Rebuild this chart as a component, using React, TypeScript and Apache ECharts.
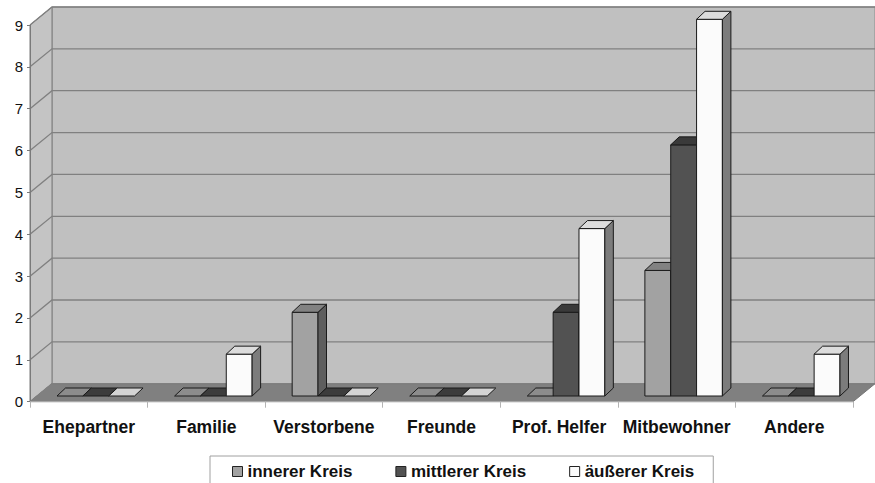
import React, { useEffect, useRef } from "react";
import * as echarts from "echarts";

const categories = ["Ehepartner", "Familie", "Verstorbene", "Freunde", "Prof. Helfer", "Mitbewohner", "Andere"];
const seriesNames = ["innerer Kreis", "mittlerer Kreis", "äußerer Kreis"];
const innerValues = [0, 0, 2, 0, 0, 3, 0];
const middleValues = [0, 0, 0, 0, 2, 6, 0];
const outerValues = [0, 1, 0, 0, 4, 9, 1];
const yTicks = [0, 1, 2, 3, 4, 5, 6, 7, 8, 9];

// face colours: [front, top, side, flatTop]
const palette = [
  { front: "#a2a2a2", top: "#828282", side: "#5e5e5e", flat: "#8c8c8c" },
  { front: "#525252", top: "#3a3a3a", side: "#2a2a2a", flat: "#3c3c3c" },
  { front: "#fbfbfb", top: "#dcdcdc", side: "#7c7c7c", flat: "#d4d4d4" },
];

const DX = 22; // wall depth
const DY = -18;
const FX = 7; // bars front offset
const FY = -5.7;
const BX = 8.5; // bar depth
const BY = -8;
const FONT = "'Liberation Sans', Arial, sans-serif";

function App() {
  const ref = useRef<HTMLDivElement>(null);
  useEffect(() => {
    if (!ref.current) return;
    const chart = echarts.init(ref.current, null, { renderer: "svg" });

    const wallSeries = {
      type: "custom",
      silent: true,
      clip: false,
      z: 1,
      data: [[0, 0]],
      renderItem: (params: any) => {
        const c = params.coordSys;
        const x = c.x, y = c.y, w = c.width, h = c.height;
        return {
          type: "group",
          children: [
            {
              type: "polygon",
              shape: { points: [[x + DX, y + DY], [x + w + DX, y + DY], [x + w + DX, y + h + DY], [x + DX, y + h + DY]] },
              style: { fill: "#c0c0c0", stroke: "#8c8c8c", lineWidth: 1 },
            },
            {
              type: "polygon",
              shape: { points: [[x, y], [x + DX, y + DY], [x + DX, y + h + DY], [x, y + h]] },
              style: { fill: "#c4c4c4", stroke: "#7a7a7a", lineWidth: 1 },
            },
            {
              type: "polygon",
              shape: { points: [[x, y + h], [x + DX, y + h + DY], [x + w + DX, y + h + DY], [x + w, y + h]] },
              style: { fill: "#808080", stroke: "#777777", lineWidth: 1 },
            },
          ],
        };
      },
    };

    const gridSeries = {
      type: "custom",
      silent: true,
      clip: false,
      z: 2,
      data: yTicks.map((v) => [0, v]),
      renderItem: (params: any, api: any) => {
        const c = params.coordSys;
        const v = api.value(1);
        const py = api.coord([0, v])[1];
        return {
          type: "polyline",
          shape: { points: [[c.x, py], [c.x + DX, py + DY], [c.x + c.width + DX, py + DY]] },
          style: { fill: "none", stroke: "#808080", lineWidth: 1.3 },
        };
      },
    };

    const makeBarSeries = (k: number, values: number[]) => ({
      type: "custom",
      name: seriesNames[k],
      clip: false,
      z: 3,
      itemStyle: { color: palette[k].front, borderColor: "#222", borderWidth: 1 },
      data: values.map((v, i) => [i, v]),
      encode: { x: 0, y: 1 },
      renderItem: (params: any, api: any) => {
        const ci = api.value(0);
        const v = api.value(1);
        const [cx, y0] = api.coord([ci, 0]);
        const y1 = api.coord([ci, v])[1];
        const bw = api.size([1, 0])[0];
        const w = bw / 4.55;
        const xl = cx + FX + (k - 1.5) * w;
        const xr = xl + w;
        const yb = y0 + FY;
        const yt = y1 + FY;
        const p = palette[k];
        const stroke = "#1a1a1a";
        const children: any[] = [];
        if (v > 0) {
          children.push({
            type: "polygon",
            shape: { points: [[xl, yt], [xr, yt], [xr, yb], [xl, yb]] },
            style: { fill: p.front, stroke, lineWidth: 1 },
          });
          children.push({
            type: "polygon",
            shape: { points: [[xr, yt], [xr + BX, yt + BY], [xr + BX, yb + BY], [xr, yb]] },
            style: { fill: p.side, stroke, lineWidth: 1 },
          });
        }
        children.push({
          type: "polygon",
          shape: { points: [[xl, yt], [xl + BX, yt + BY], [xr + BX, yt + BY], [xr, yt]] },
          style: { fill: v > 0 ? p.top : p.flat, stroke, lineWidth: 1 },
        });
        return { type: "group", children };
      },
    });

    chart.setOption({
      animation: false,
      backgroundColor: "#ffffff",
      grid: { left: 30, right: 22, top: 25, bottom: 81.3, containLabel: false },
      xAxis: {
        type: "category",
        data: categories,
        boundaryGap: true,
        axisLine: { show: true, lineStyle: { color: "#a8a8a8", width: 1 } },
        axisTick: { show: true, length: 6, lineStyle: { color: "#b4b4b4" }, alignWithLabel: false },
        axisLabel: { color: "#111", fontSize: 17.5, fontWeight: "bold", fontFamily: FONT, margin: 16, interval: 0 },
        splitLine: { show: false },
        z: 4,
      },
      yAxis: {
        type: "value",
        min: 0,
        max: 9,
        interval: 1,
        axisLine: { show: true, lineStyle: { color: "#7a7a7a", width: 1 } },
        axisTick: { show: true, length: 3, lineStyle: { color: "#7a7a7a" } },
        axisLabel: { color: "#111", fontSize: 15, fontFamily: FONT, margin: 7 },
        splitLine: { show: false },
        z: 4,
      },
      legend: {
        data: seriesNames.map((n, k) => ({
          name: n,
          itemStyle: { color: palette[k].front, borderColor: "#222", borderWidth: 1 },
        })),
        left: 210,
        top: 456,
        orient: "horizontal",
        icon: "rect",
        itemWidth: 10,
        itemHeight: 10,
        itemGap: 43,
        padding: [7, 19, 10, 22],
        borderColor: "#a0a0a0",
        borderWidth: 1,
        backgroundColor: "#ffffff",
        textStyle: { color: "#111", fontSize: 17, fontWeight: "bold", fontFamily: FONT },
        selectedMode: false,
      },
      series: [
        wallSeries,
        gridSeries,
        makeBarSeries(0, innerValues),
        makeBarSeries(1, middleValues),
        makeBarSeries(2, outerValues),
      ],
    });
    return () => chart.dispose();
  }, []);
  return (
    <div
      ref={ref}
      style={{ position: "absolute", left: 0, top: 0, width: 875, height: 483, overflow: "hidden" }}
    />
  );
}

export default App;
